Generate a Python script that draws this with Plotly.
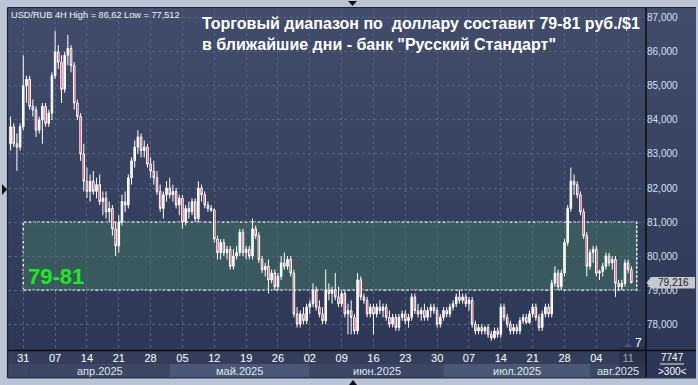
import plotly.graph_objects as go

# ---------------- data ----------------
first_bar = -4  # bars are indexed from the Monday 31 Mar bar (index 0), 10 bars per week
open_ = [
    83.3, 83.8, 83.3, 83.2,
    83.8, 85.0, 85.2, 84.4, 84.3, 83.7, 84.0, 84.4, 83.9, 84.2,
    85.3, 86.0, 85.7, 84.9, 85.9, 86.1, 85.6, 84.5, 84.1, 83.0,
    82.2, 81.9, 82.2, 81.9, 82.1, 81.6, 81.7, 81.3, 81.4, 80.8,
    80.3, 81.0, 81.6, 81.5, 82.3, 82.8, 83.2, 83.5, 83.1, 83.2,
    82.7, 82.5, 82.3, 81.9, 81.4, 81.8, 82.0, 81.8, 81.9, 81.5,
    81.7, 81.0, 81.4, 81.3, 81.6, 81.1, 82.0, 81.8, 81.5, 81.4,
    81.35, 80.5, 80.1, 80.4, 80.1, 80.2, 79.7, 80.0, 80.1, 80.7,
    80.1, 80.2, 80.0, 80.8, 80.6, 79.9, 79.6, 79.7, 79.3, 79.5,
    79.1, 79.4, 79.8, 79.7, 79.9, 79.5, 78.3, 78.0, 78.3, 78.1,
    78.5, 78.6, 79.0, 78.5, 78.3, 78.1, 79.0, 78.9, 79.0, 78.8,
    78.6, 78.9, 78.3, 78.4, 78.2, 77.8, 79.3, 78.8, 78.7, 78.3,
    78.5, 78.3, 78.5, 78.4, 78.5, 78.2, 78.0, 78.2, 77.9, 78.2,
    78.3, 78.1, 78.2, 78.8, 78.4, 78.3, 78.4, 78.2, 78.4, 78.5,
    78.4, 78.0, 78.2, 78.4, 78.3, 78.5, 78.6, 78.8, 78.7, 78.8,
    78.6, 78.7, 78.0, 77.8, 77.9, 77.8, 77.9, 77.7, 77.6, 77.8,
    77.7, 78.5, 78.2, 78.0, 77.8, 77.9, 77.8, 78.1, 78.2, 78.05,
    78.3, 78.5, 78.2, 77.9, 78.3, 78.5, 78.3, 79.2, 79.5, 79.1,
    79.5, 80.4, 81.4, 82.2, 82.1, 81.8, 81.3, 80.6, 79.7, 80.1,
    80.2, 79.5, 79.55, 79.7, 80.0, 79.8, 79.9, 79.2, 79.1, 79.2,
    79.8, 79.6,
]
high = [
    84.1, 83.9, 83.6, 83.9,
    85.9, 85.3, 85.3, 84.6, 84.4, 84.1, 84.5, 84.5, 84.3, 85.4,
    86.62, 86.2, 85.9, 86.0, 86.5, 86.2, 85.7, 84.6, 84.2, 83.3,
    82.6, 82.4, 82.5, 82.3, 82.4, 81.9, 81.9, 81.6, 81.5, 81.0,
    81.2, 81.8, 81.9, 82.4, 82.9, 83.4, 83.7, 83.6, 83.4, 83.3,
    82.9, 82.8, 82.5, 82.1, 81.9, 82.2, 82.3, 82.1, 82.0, 81.8,
    81.8, 81.5, 81.6, 81.7, 81.7, 82.2, 82.1, 81.9, 81.6, 81.5,
    81.4, 80.6, 80.5, 80.5, 80.3, 80.3, 80.2, 80.3, 80.8, 80.8,
    80.3, 80.3, 81.1, 80.9, 80.7, 80.0, 79.8, 79.9, 79.6, 79.6,
    79.5, 80.0, 80.1, 80.0, 80.0, 79.6, 78.5, 78.4, 78.5, 78.6,
    78.7, 79.2, 79.1, 78.7, 78.5, 79.6, 79.2, 79.1, 79.5, 79.1,
    79.0, 79.0, 78.6, 78.7, 78.3, 79.5, 79.4, 78.9, 78.8, 78.6,
    78.6, 78.6, 78.7, 78.6, 78.6, 78.4, 78.3, 78.3, 78.3, 78.4,
    78.4, 78.3, 78.9, 78.9, 78.6, 78.5, 78.6, 78.5, 78.6, 78.6,
    78.5, 78.3, 78.5, 78.5, 78.6, 78.7, 78.9, 79.0, 78.9, 78.9,
    78.8, 78.8, 78.1, 78.0, 78.0, 77.95, 78.0, 77.8, 77.9, 77.9,
    78.6, 78.6, 78.3, 78.1, 78.0, 78.0, 78.2, 78.3, 78.3, 78.4,
    78.6, 78.6, 78.3, 78.4, 78.6, 78.6, 79.3, 79.7, 79.6, 79.6,
    80.5, 81.5, 82.6, 82.4, 82.2, 81.9, 81.4, 80.7, 80.2, 80.3,
    80.3, 79.6, 79.8, 80.1, 80.1, 80.0, 80.0, 79.3, 79.3, 79.9,
    79.9, 79.7,
]
low = [
    83.1, 83.2, 82.5, 83.1,
    83.7, 84.5, 84.3, 84.1, 83.5, 83.6, 83.3, 83.8, 83.8, 84.0,
    85.2, 85.5, 84.5, 84.8, 85.6, 85.4, 84.3, 84.0, 82.8, 81.9,
    81.7, 81.6, 81.8, 81.7, 81.5, 81.2, 81.1, 81.0, 80.6, 80.0,
    80.1, 80.9, 81.3, 81.4, 82.1, 82.6, 83.0, 82.9, 82.9, 82.6,
    82.3, 82.1, 81.8, 81.3, 81.1, 81.6, 81.7, 81.6, 81.4, 81.2,
    80.8, 80.9, 81.1, 81.2, 81.0, 81.0, 81.6, 81.4, 81.3, 81.3,
    80.4, 79.9, 79.9, 80.0, 79.9, 79.6, 79.6, 79.9, 80.0, 80.0,
    79.9, 79.9, 79.9, 80.5, 79.8, 79.5, 79.4, 78.9, 79.2, 79.0,
    79.0, 79.3, 79.6, 79.6, 79.4, 78.2, 77.9, 77.9, 78.0, 78.0,
    78.3, 78.5, 78.4, 78.2, 78.0, 78.0, 78.7, 78.6, 78.7, 78.5,
    78.5, 78.2, 77.7, 77.7, 77.7, 77.7, 78.7, 78.6, 78.2, 78.2,
    77.7, 78.2, 78.3, 78.2, 78.1, 77.9, 77.9, 77.8, 77.8, 78.1,
    78.0, 77.9, 78.1, 78.3, 78.2, 78.1, 78.1, 78.1, 78.2, 78.3,
    77.9, 77.9, 78.1, 78.2, 78.2, 78.4, 78.5, 78.6, 78.6, 78.5,
    78.4, 77.9, 77.7, 77.7, 77.7, 77.7, 77.6, 77.512, 77.55, 77.6,
    77.6, 78.1, 77.9, 77.7, 77.7, 77.7, 77.7, 78.0, 78.0, 78.0,
    78.2, 78.1, 77.8, 77.8, 78.2, 78.2, 78.2, 79.1, 79.0, 79.0,
    79.4, 80.3, 81.3, 81.8, 81.7, 81.2, 80.5, 79.4, 79.6, 79.8,
    79.4, 79.3, 79.4, 79.6, 79.7, 79.6, 78.8, 79.0, 79.0, 79.1,
    79.5, 79.2,
]
close = [
    83.8, 83.3, 83.2, 83.8,
    85.0, 85.2, 84.4, 84.3, 83.7, 84.0, 84.4, 83.9, 84.2, 85.3,
    86.0, 85.7, 84.9, 85.9, 86.1, 85.6, 84.5, 84.1, 83.0, 82.2,
    81.9, 82.2, 81.9, 82.1, 81.6, 81.7, 81.3, 81.4, 80.8, 80.3,
    81.0, 81.6, 81.5, 82.3, 82.8, 83.2, 83.5, 83.1, 83.2, 82.7,
    82.5, 82.3, 81.9, 81.4, 81.8, 82.0, 81.8, 81.9, 81.5, 81.7,
    81.0, 81.4, 81.3, 81.6, 81.1, 82.0, 81.8, 81.5, 81.4, 81.35,
    80.5, 80.1, 80.4, 80.1, 80.2, 79.7, 80.0, 80.1, 80.7, 80.1,
    80.2, 80.0, 80.8, 80.6, 79.9, 79.6, 79.7, 79.3, 79.5, 79.1,
    79.4, 79.8, 79.7, 79.9, 79.5, 78.3, 78.0, 78.3, 78.1, 78.5,
    78.6, 79.0, 78.5, 78.3, 78.1, 79.0, 78.9, 79.0, 78.8, 78.6,
    78.9, 78.3, 78.4, 78.2, 77.8, 79.3, 78.8, 78.7, 78.3, 78.5,
    78.3, 78.5, 78.4, 78.5, 78.2, 78.0, 78.2, 77.9, 78.2, 78.3,
    78.1, 78.2, 78.8, 78.4, 78.3, 78.4, 78.2, 78.4, 78.5, 78.4,
    78.0, 78.2, 78.4, 78.3, 78.5, 78.6, 78.8, 78.7, 78.8, 78.6,
    78.7, 78.0, 77.8, 77.9, 77.8, 77.9, 77.7, 77.6, 77.8, 77.7,
    78.5, 78.2, 78.0, 77.8, 77.9, 77.8, 78.1, 78.2, 78.05, 78.3,
    78.5, 78.2, 77.9, 78.3, 78.5, 78.3, 79.2, 79.5, 79.1, 79.5,
    80.4, 81.4, 82.2, 82.1, 81.8, 81.3, 80.6, 79.7, 80.1, 80.2,
    79.5, 79.55, 79.7, 80.0, 79.8, 79.9, 79.2, 79.1, 79.2, 79.8,
    79.6, 79.216,
]
week_ticks = ['31', '07', '14', '21', '28', '05', '12', '19', '26', '02',
              '09', '16', '23', '30', '07', '14', '21', '28', '04', '11']
bars_per_week = 10
month_labels = ['апр.2025', 'май.2025', 'июн.2025', 'июл.2025', 'авг.2025']
month_start_bar = [2, 46, 90, 132, 178]
y_ticks = [78, 79, 80, 81, 82, 83, 84, 85, 86, 87]
zone_low, zone_high = 79, 81
zone_start_bar, zone_end_bar = 0, 192.7
last_price = 79.216
info_text = 'USD/RUB 4H High = 86,62 Low = 77,512'
title_text = ('Торговый диапазон по \u00a0доллару составит 79-81 руб./$1<br>'
              'в ближайшие дни - банк "Русский Стандарт"')

bars = list(range(first_bar, first_bar + len(close)))

# ---------------- geometry ----------------
W, H = 698, 385
L, R, T, B = 8, 646, 9, 350
XMIN, XMAX = -4.8, 195.6
YMIN, YMAX = 77.24, 87.26
FONT = 'Liberation Sans'


def pxp(x):
    return (x - L) / (R - L)


def pyp(y):
    return (B - y) / (B - T)


def bar_paper(i):
    return (i - XMIN) / (XMAX - XMIN)


def val_paper(v):
    return (v - YMIN) / (YMAX - YMIN)


shapes = []
# gradient background of the inner panel
top_c = (65, 77, 106)
bot_c = (43, 54, 84)
y0p, y1p = 8, 378
n = 37
for k in range(n):
    ya = y0p + (y1p - y0p) * k / n
    yb = y0p + (y1p - y0p) * (k + 1) / n + 0.6
    t = (k + 0.5) / n
    c = tuple(round(top_c[j] + (bot_c[j] - top_c[j]) * t) for j in range(3))
    shapes.append(dict(type='rect', xref='paper', yref='paper', layer='below',
                       x0=pxp(8), x1=pxp(696), y0=pyp(yb), y1=pyp(ya),
                       fillcolor='rgb(%d,%d,%d)' % c, line=dict(width=0)))
# date row
shapes.append(dict(type='rect', xref='paper', yref='paper', layer='below',
                   x0=pxp(8), x1=pxp(646), y0=pyp(364), y1=pyp(351),
                   fillcolor='#333f5a', line=dict(width=0)))
# month row
bounds = [XMIN] + month_start_bar + [XMAX]
for k in range(len(bounds) - 1):
    light = (k % 2 == 0) and k > 0
    shapes.append(dict(type='rect', xref='paper', yref='paper', layer='below',
                       x0=bar_paper(bounds[k]), x1=bar_paper(bounds[k + 1]),
                       y0=pyp(377), y1=pyp(364),
                       fillcolor='#4b5875' if light else '#3b4763', line=dict(width=0)))
# highlight of current week label
shapes.append(dict(type='rect', xref='paper', yref='paper', layer='above',
                   x0=pxp(619.5), x1=pxp(646), y0=pyp(377), y1=pyp(347),
                   fillcolor='rgba(28,38,60,0.45)', line=dict(width=0)))
# trading zone
shapes.append(dict(type='rect', xref='x', yref='y', layer='below',
                   x0=zone_start_bar, x1=zone_end_bar, y0=zone_low, y1=zone_high,
                   fillcolor='rgba(66,118,98,0.5)',
                   line=dict(color='#ffffff', width=1.3, dash='3px,1.5px')))
# black separators
shapes.append(dict(type='line', xref='paper', yref='paper', layer='above',
                   x0=pxp(646), x1=pxp(646), y0=pyp(377), y1=pyp(8),
                   line=dict(color='#0c0c14', width=1.5)))
shapes.append(dict(type='line', xref='paper', yref='paper', layer='above',
                   x0=pxp(8), x1=pxp(696), y0=pyp(350.5), y1=pyp(350.5),
                   line=dict(color='#0c0c14', width=1.5)))
# inner panel dark edge
shapes.append(dict(type='line', xref='paper', yref='paper', layer='above',
                   x0=pxp(7.5), x1=pxp(7.5), y0=pyp(378), y1=pyp(7.5),
                   line=dict(color='#1e2535', width=1.2)))
shapes.append(dict(type='line', xref='paper', yref='paper', layer='above',
                   x0=pxp(7.5), x1=pxp(696), y0=pyp(7.5), y1=pyp(7.5),
                   line=dict(color='#1e2535', width=1.2)))
# frame markers (small triangles)
def tri(points, color):
    d = 'M ' + ' L '.join('%f,%f' % (pxp(x), pyp(y)) for x, y in points) + ' Z'
    return dict(type='path', xref='paper', yref='paper', layer='above', path=d,
                fillcolor=color, line=dict(width=0))


shapes.append(tri([(2, 184), (7, 189.5), (2, 195)], '#101018'))
shapes.append(tri([(348, 1), (357, 1), (352.5, 6)], '#101018'))
shapes.append(tri([(349, 385), (357, 385), (353, 380)], '#101018'))
shapes.append(tri([(624, 347), (632, 347), (628, 343)], '#4c586e'))
# price marker
pp = val_paper(last_price)
ph = 5.8 / (B - T)
shapes.append(dict(type='path', xref='paper', yref='paper', layer='above',
                   path='M %f,%f L %f,%f L %f,%f L %f,%f L %f,%f Z' % (
                       pxp(646.5), pp, pxp(651), pp + ph, pxp(695), pp + ph,
                       pxp(695), pp - ph, pxp(651), pp - ph),
                   fillcolor='#c6cacf', line=dict(width=0)))
# underline of 7747
shapes.append(dict(type='line', xref='paper', yref='paper', layer='above',
                   x0=pxp(660), x1=pxp(684), y0=pyp(364), y1=pyp(364),
                   line=dict(color='#e6ebf3', width=1)))

annotations = []
annotations.append(dict(xref='paper', yref='paper', x=pxp(200), y=pyp(13),
                        xanchor='left', yanchor='top', align='left', showarrow=False,
                        text=title_text,
                        font=dict(family=FONT, size=16, color='#ffffff', weight='bold')))
annotations.append(dict(xref='paper', yref='paper', x=pxp(9), y=pyp(15.5),
                        xanchor='left', yanchor='middle', showarrow=False,
                        text=info_text, font=dict(family=FONT, size=9.2, color='#f0f4fa')))
annotations.append(dict(xref='paper', yref='paper', x=pxp(56), y=pyp(276),
                        xanchor='center', yanchor='middle', showarrow=False,
                        text='%d-%d' % (zone_low, zone_high),
                        font=dict(family=FONT, size=22, color='#1ee81e', weight='bold')))
for k, lab in enumerate(month_labels):
    a = month_start_bar[k]
    b = month_start_bar[k + 1] if k + 1 < len(month_start_bar) else XMAX
    annotations.append(dict(xref='paper', yref='paper', x=(bar_paper(a) + bar_paper(b)) / 2,
                            y=pyp(370.5), xanchor='center', yanchor='middle', showarrow=False,
                            text=lab, font=dict(family=FONT, size=11, color='#dfe6f0')))
annotations.append(dict(xref='paper', yref='y', x=pxp(673), y=last_price,
                        xanchor='center', yanchor='middle', showarrow=False,
                        text='79,216', font=dict(family=FONT, size=10, color='#1a1a1a')))
annotations.append(dict(xref='paper', yref='paper', x=pxp(638), y=pyp(343),
                        xanchor='center', yanchor='middle', showarrow=False,
                        text='7', font=dict(family=FONT, size=12, color='#ffffff')))
annotations.append(dict(xref='paper', yref='paper', x=pxp(672), y=pyp(357),
                        xanchor='center', yanchor='middle', showarrow=False,
                        text='7747', font=dict(family=FONT, size=10, color='#ffffff')))
annotations.append(dict(xref='paper', yref='paper', x=pxp(672), y=pyp(371),
                        xanchor='center', yanchor='middle', showarrow=False,
                        text='&gt;300&lt;', font=dict(family=FONT, size=10, color='#ffffff')))

fig = go.Figure()
fig.add_trace(go.Candlestick(
    x=bars, open=open_, high=high, low=low, close=close,
    increasing=dict(line=dict(color='#ffffff', width=1), fillcolor='#eef2d2'),
    decreasing=dict(line=dict(color='#ffffff', width=1), fillcolor='#e8173f'),
    whiskerwidth=0, showlegend=False, hoverinfo='skip'))

fig.update_layout(
    width=W, height=H, autosize=False,
    margin=dict(l=L, r=W - R, t=T, b=H - B, pad=0),
    paper_bgcolor='#b9c5d5', plot_bgcolor='rgba(0,0,0,0)',
    font=dict(family=FONT, color='#ffffff'),
    shapes=shapes, annotations=annotations, showlegend=False,
    xaxis=dict(range=[XMIN, XMAX], tickmode='array',
               tickvals=[k * bars_per_week for k in range(len(week_ticks))],
               ticktext=week_ticks, showgrid=True, gridcolor='#56657f', gridwidth=1,
               griddash='3px,3px', zeroline=False, showline=False, ticks='',
               tickfont=dict(family=FONT, size=11, color='#ffffff'),
               rangeslider=dict(visible=False), fixedrange=True),
    yaxis=dict(range=[YMIN, YMAX], side='right', tickmode='array', tickvals=y_ticks,
               ticktext=['%d,000' % v for v in y_ticks], showgrid=True,
               gridcolor='#56657f', gridwidth=1, griddash='3px,3px', zeroline=False,
               showline=False, ticks='',
               tickfont=dict(family=FONT, size=10, color='#d3e0f5'), fixedrange=True),
)

fig.write_html('out.html')
